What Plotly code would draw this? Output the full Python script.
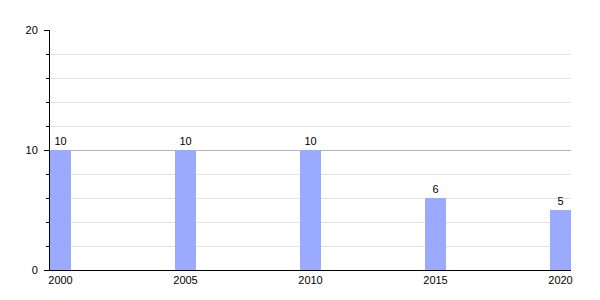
import plotly.graph_objects as go

years = [2000, 2005, 2010, 2015, 2020]
values = [10, 10, 10, 6, 5]
x_ticks = [2000, 2005, 2010, 2015, 2020]
y_ticks = [0, 10, 20]

fig = go.Figure(go.Bar(
    x=years, y=values, width=0.84,
    marker=dict(color="#99aaff", line=dict(width=0)),
    text=[str(v) for v in values], textposition="outside",
    textfont=dict(size=11, color="black", family="Liberation Sans, Arial, sans-serif"),
    cliponaxis=False,
))

fig.update_layout(
    width=600, height=300,
    margin=dict(l=50, r=29, t=30, b=30),
    paper_bgcolor="white", plot_bgcolor="white",
    showlegend=False,
    font=dict(family="Liberation Sans, Arial, sans-serif", size=11, color="black"),
    bargap=0,
)
fig.update_xaxes(
    range=[1999.58, 2020.42], tickvals=x_ticks, ticktext=[str(t) for t in x_ticks],
    showgrid=False, showline=True, linecolor="black", linewidth=1,
    ticks="", zeroline=False, tickfont=dict(size=11),
)
fig.update_yaxes(
    range=[0, 20], tickvals=y_ticks, showgrid=True, gridcolor="#b4b4b4", gridwidth=1,
    showline=True, linecolor="black", linewidth=1, ticks="outside", ticklen=5,
    tickcolor="black", zeroline=False, tickfont=dict(size=11), ticklabelstandoff=4,
    minor=dict(tickmode="linear", dtick=2, showgrid=True, gridcolor="#e2e2e2",
               ticks="outside", ticklen=3, tickcolor="black"),
)

fig.write_html("out.html")
